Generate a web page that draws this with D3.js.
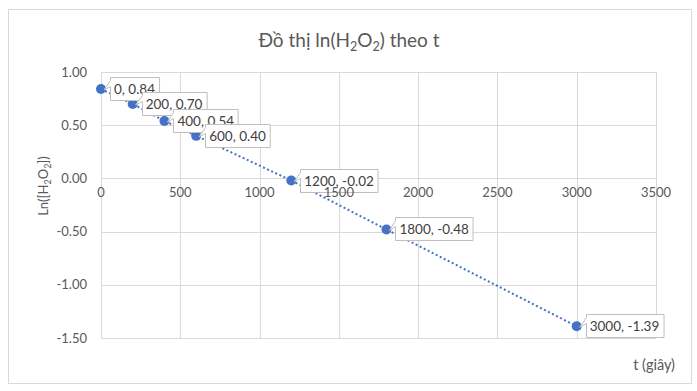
<!DOCTYPE html>
<html>
<head>
<meta charset="utf-8">
<script src="https://cdn.jsdelivr.net/npm/d3@7"></script>
<style>
  body { margin: 0; background: #fff; }
  text { font-family: Lato, "Open Sans", sans-serif; }
</style>
</head>
<body>
<div id="chart"></div>
<script>
// data
var times = [0, 200, 400, 600, 1200, 1800, 3000];
var lnValues = [0.84, 0.70, 0.54, 0.40, -0.02, -0.48, -1.39];
var xTicks = [0, 500, 1000, 1500, 2000, 2500, 3000, 3500];
var yTicks = [1.0, 0.5, 0.0, -0.5, -1.0, -1.5];

var width = 697, height = 391;
var blue = "#4472c4";
var grid = "#d9d9d9";
var textCol = "#595959";

// plain hyphen for negatives, like the original
var fmt = d3.formatLocale({decimal: ".", thousands: ",", grouping: [3], currency: ["", ""], minus: "-"}).format(".2f");

var svg = d3.select("#chart").append("svg")
    .attr("width", width)
    .attr("height", height);

// outer chart border
svg.append("rect")
    .attr("x", 8.5).attr("y", 9.5)
    .attr("width", 683).attr("height", 374)
    .attr("fill", "#fff")
    .attr("stroke", grid);

var x = d3.scaleLinear().domain([0, 3500]).range([101, 656]);
var y = d3.scaleLinear().domain([-1.5, 1]).range([338, 72]);

// gridlines
svg.append("g").selectAll("line.v")
    .data(xTicks).enter().append("line")
    .attr("x1", d => Math.round(x(d)) + 0.5).attr("x2", d => Math.round(x(d)) + 0.5)
    .attr("y1", y(1)).attr("y2", y(-1.5))
    .attr("stroke", grid);

svg.append("g").selectAll("line.h")
    .data(yTicks).enter().append("line")
    .attr("x1", x(0)).attr("x2", x(3500))
    .attr("y1", d => Math.round(y(d)) + 0.5).attr("y2", d => Math.round(y(d)) + 0.5)
    .attr("stroke", grid);

// y tick labels
svg.append("g").selectAll("text")
    .data(yTicks).enter().append("text")
    .attr("x", 87).attr("y", d => y(d) + 4.5)
    .attr("text-anchor", "end")
    .attr("font-size", 13)
    .attr("fill", textCol)
    .text(d => fmt(d));

// title
var title = svg.append("text")
    .attr("x", 349).attr("y", 47)
    .attr("text-anchor", "middle")
    .attr("font-size", 19)
    .attr("fill", textCol);
title.append("tspan").text("Đồ thị ln(H");
title.append("tspan").attr("font-size", 12.5).attr("dy", 4).text("2");
title.append("tspan").attr("dy", -4).text("O");
title.append("tspan").attr("font-size", 12.5).attr("dy", 4).text("2");
title.append("tspan").attr("dy", -4).text(") theo t");

// axis titles
var yt = svg.append("text")
    .attr("transform", "translate(48,186) rotate(-90)")
    .attr("text-anchor", "middle")
    .attr("font-size", 13)
    .attr("fill", textCol);
yt.append("tspan").text("Ln([H");
yt.append("tspan").attr("font-size", 9).attr("dy", 3).text("2");
yt.append("tspan").attr("dy", -3).text("O");
yt.append("tspan").attr("font-size", 9).attr("dy", 3).text("2");
yt.append("tspan").attr("dy", -3).text("])");

svg.append("text")
    .attr("x", 675).attr("y", 370)
    .attr("text-anchor", "end")
    .attr("font-size", 14.5)
    .attr("fill", textCol)
    .text("t (giây)");

var points = times.map((t, i) => ({t: t, v: lnValues[i]}));

// dotted trend line
svg.append("path")
    .datum(points)
    .attr("fill", "none")
    .attr("stroke", blue)
    .attr("stroke-width", 2)
    .attr("stroke-dasharray", "2,2.5")
    .attr("d", d3.line().x(d => x(d.t)).y(d => y(d.v)));

// markers
svg.append("g").selectAll("circle")
    .data(points).enter().append("circle")
    .attr("cx", d => x(d.t)).attr("cy", d => y(d.v))
    .attr("r", 5)
    .attr("fill", blue);

// data label callouts
var labels = svg.append("g");
points.forEach(function(d) {
    var px = x(d.t), py = y(d.v);
    var g = labels.append("g");
    var txt = g.append("text")
        .attr("x", px + 13).attr("y", py + 5)
        .attr("font-size", 13.5)
        .attr("fill", "#404040")
        .text(d.t + ", " + fmt(d.v));
    var w = txt.node().getComputedTextLength() + 8;
    var l = Math.round(px + 9) + 0.5, r = l + w;
    var t = Math.round(py - 12) + 0.5, b = t + 23;
    g.insert("path", "text")
        .attr("d", "M" + l + "," + t + "L" + r + "," + t + "L" + r + "," + b + "L" + l + "," + b +
            "L" + l + "," + (t + 9) + "L" + (px + 3) + "," + (py + 1) + "L" + l + "," + (t + 3) + "Z")
        .attr("fill", "#fff")
        .attr("stroke", "#bfbfbf");
});

// x tick labels sit under the zero line, on top of the callouts
svg.append("g").selectAll("text")
    .data(xTicks).enter().append("text")
    .attr("x", d => x(d)).attr("y", y(0) + 19)
    .attr("text-anchor", "middle")
    .attr("font-size", 13)
    .attr("fill", textCol)
    .text(d => d);
</script>
</body>
</html>
